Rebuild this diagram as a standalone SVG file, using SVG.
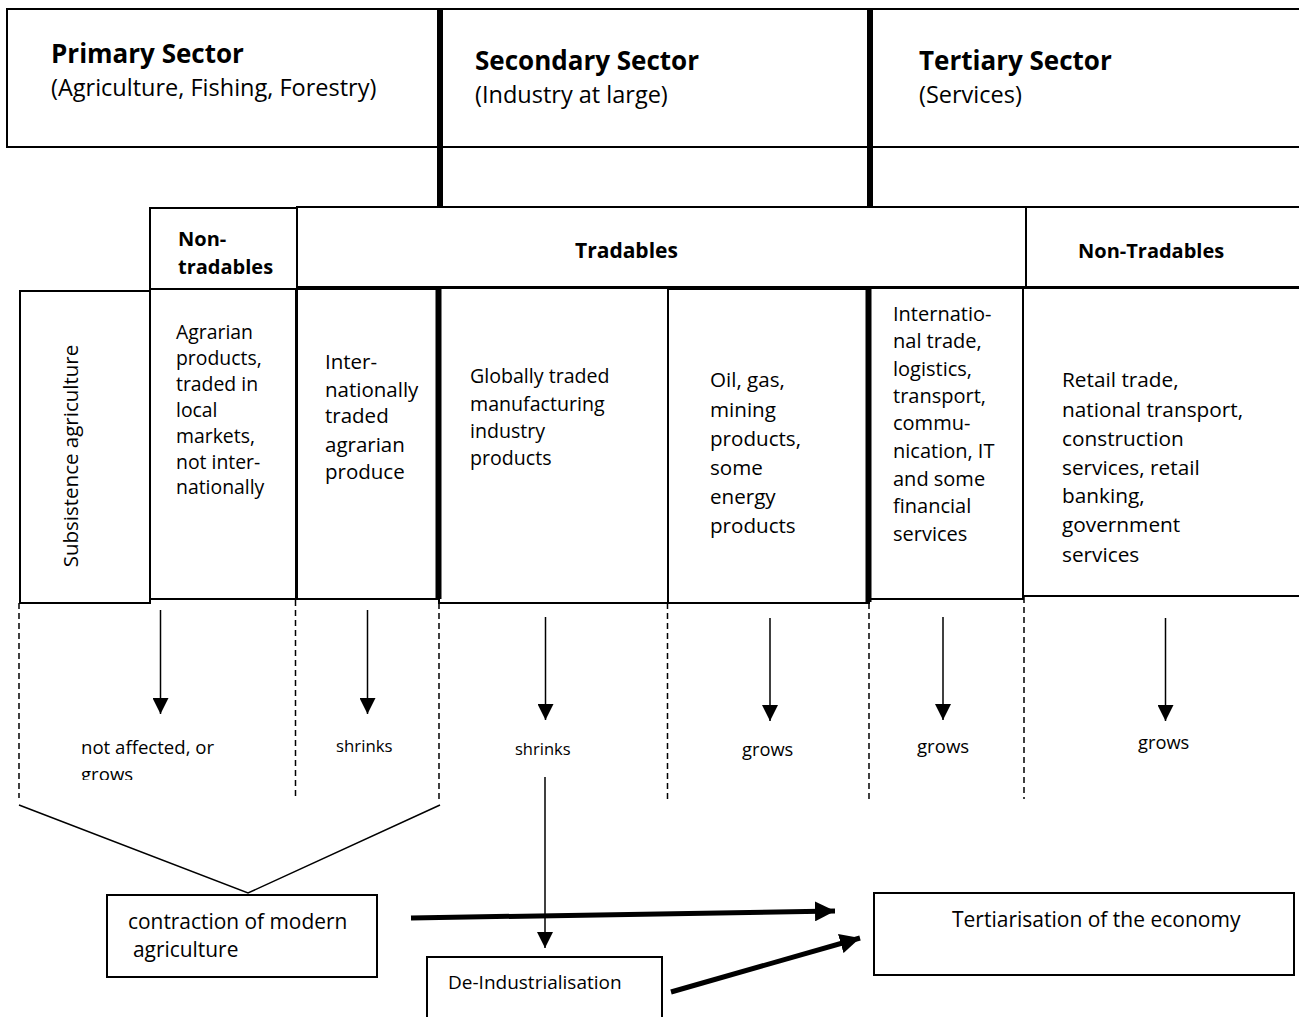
<svg xmlns="http://www.w3.org/2000/svg" width="1299" height="1017" viewBox="0 0 1299 1017">
<style>
text{font-family:"Open Sans","Liberation Sans",sans-serif;fill:#000}
.box{fill:#fff;stroke:#000;stroke-width:2}
.thick{stroke:#000;stroke-width:6;fill:none}
.h{font-weight:bold;font-size:26px}
.sub{font-size:23.5px}
.cat{font-weight:bold;font-size:20px}
.dash{stroke:#000;stroke-width:1.5;stroke-dasharray:6 4;fill:none}
.arr{stroke:#000;stroke-width:1.5;fill:none;marker-end:url(#ah)}
.big{stroke:#000;stroke-width:5;fill:none;marker-end:url(#ahb)}
.ln{stroke:#000;stroke-width:1.5;fill:none}
.lbl{font-size:17px}
</style>
<defs>
<marker id="ah" markerUnits="userSpaceOnUse" viewBox="0 0 16 16" refX="16" refY="8" markerWidth="16" markerHeight="16" orient="auto"><path d="M0,0 L16,8 L0,16 Z" fill="#000"/></marker>
<marker id="ahb" markerUnits="userSpaceOnUse" viewBox="0 0 20 20" refX="20" refY="10" markerWidth="20" markerHeight="20" orient="auto"><path d="M0,0 L20,10 L0,20 Z" fill="#000"/></marker>
<clipPath id="clipGrows"><rect x="0" y="600" width="300" height="180"/></clipPath>
</defs>
<rect width="1299" height="1017" fill="#fff"/>

<g id="header">
<rect class="box" x="7" y="9" width="1300" height="138"/>
<text class="h" x="51" y="63">Primary Sector</text>
<text class="sub" x="51" y="96">(Agriculture, Fishing, Forestry)</text>
<text class="h" x="475" y="70">Secondary Sector</text>
<text class="sub" x="475" y="103">(Industry at large)</text>
<text class="h" x="919" y="70">Tertiary Sector</text>
<text class="sub" x="919" y="103">(Services)</text>
</g>

<g id="cat-nontradables-1">
<rect class="box" x="150" y="208" width="147" height="81"/>
<text class="cat" x="178" y="246">Non-</text>
<text class="cat" x="178" y="274">tradables</text>
</g>
<g id="cat-tradables">
<rect class="box" x="297" y="207" width="729" height="80"/>
<text class="cat" x="575" y="258" style="font-size:21px">Tradables</text>
</g>
<g id="cat-nontradables-2">
<rect class="box" x="1026" y="207" width="280" height="80"/>
<text class="cat" x="1078" y="258">Non-Tradables</text>
</g>

<g id="col-subsistence">
<rect class="box" x="20" y="291" width="130" height="312"/>
<text x="78" y="456" text-anchor="middle" transform="rotate(-90 78 456)" style="font-size:20.5px">Subsistence agriculture</text>
</g>
<g id="col-agrarian" style="font-size:19.4px">
<rect class="box" x="150" y="289" width="146" height="310"/>
<text x="176" y="339">Agrarian</text>
<text x="176" y="365">products,</text>
<text x="176" y="391">traded in</text>
<text x="176" y="417">local</text>
<text x="176" y="443">markets,</text>
<text x="176" y="469">not inter-</text>
<text x="176" y="494">nationally</text>
</g>
<g id="col-intl-agrarian" style="font-size:20.5px">
<rect class="box" x="297" y="289" width="142" height="310"/>
<text x="325" y="369">Inter-</text>
<text x="325" y="397">nationally</text>
<text x="325" y="423">traded</text>
<text x="325" y="452">agrarian</text>
<text x="325" y="479">produce</text>
</g>
<g id="col-manufacturing" style="font-size:19.6px">
<rect class="box" x="439" y="288" width="229" height="315"/>
<text x="470" y="383">Globally traded</text>
<text x="470" y="411">manufacturing</text>
<text x="470" y="438">industry</text>
<text x="470" y="465">products</text>
</g>
<g id="col-oil" style="font-size:20.6px">
<rect class="box" x="668" y="289" width="201" height="314"/>
<text x="710" y="387">Oil, gas,</text>
<text x="710" y="417">mining</text>
<text x="710" y="446">products,</text>
<text x="710" y="475">some</text>
<text x="710" y="504">energy</text>
<text x="710" y="533">products</text>
</g>
<g id="col-intl-services" style="font-size:20px">
<rect class="box" x="869" y="288" width="154" height="311"/>
<text x="893" y="321">Internatio-</text>
<text x="893" y="348">nal trade,</text>
<text x="893" y="376">logistics,</text>
<text x="893" y="403">transport,</text>
<text x="893" y="430">commu-</text>
<text x="893" y="458">nication, IT</text>
<text x="893" y="486">and some</text>
<text x="893" y="513">financial</text>
<text x="893" y="541">services</text>
</g>
<g id="col-retail" style="font-size:20.8px">
<rect class="box" x="1023" y="288" width="283" height="308"/>
<text x="1062" y="387">Retail trade,</text>
<text x="1062" y="417">national transport,</text>
<text x="1062" y="446">construction</text>
<text x="1062" y="475">services, retail</text>
<text x="1062" y="503">banking,</text>
<text x="1062" y="532">government</text>
<text x="1062" y="562">services</text>
</g>

<g id="sector-dividers">
<line class="thick" x1="440" y1="9" x2="440" y2="207"/>
<line class="thick" x1="870" y1="9" x2="870" y2="207"/>
<line class="thick" x1="438.5" y1="289" x2="438.5" y2="599"/>
<line class="thick" x1="868.5" y1="289" x2="868.5" y2="602"/>
</g>

<g id="effects">
<text class="lbl" x="81" y="754" style="font-size:18.6px">not affected, or</text>
<text class="lbl" x="81" y="781" clip-path="url(#clipGrows)" style="font-size:18.6px">grows</text>
<text class="lbl" x="336" y="752" style="font-size:16.8px">shrinks</text>
<text class="lbl" x="515" y="755" style="font-size:16.5px">shrinks</text>
<text class="lbl" x="742" y="756" style="font-size:18.3px">grows</text>
<text class="lbl" x="917" y="753" style="font-size:18.6px">grows</text>
<text class="lbl" x="1138" y="749" style="font-size:18.3px">grows</text>
</g>

<g id="node-contraction">
<rect class="box" x="107" y="895" width="270" height="82"/>
<text x="128" y="929" style="font-size:20.9px">contraction of modern</text>
<text x="133" y="957" style="font-size:20.9px">agriculture</text>
</g>
<g id="node-deindustrialisation">
<rect class="box" x="427" y="957" width="235" height="80"/>
<text x="448" y="989" style="font-size:19px">De-Industrialisation</text>
</g>
<g id="node-tertiarisation">
<rect class="box" x="874" y="893" width="420" height="82"/>
<text x="952" y="927" style="font-size:21px">Tertiarisation of the economy</text>
</g>

<g id="connectors">
<line class="dash" x1="19" y1="603" x2="19" y2="798"/>
<line class="dash" x1="295.5" y1="600" x2="295.5" y2="800"/>
<line class="dash" x1="439" y1="603" x2="439" y2="803"/>
<line class="dash" x1="667.5" y1="603" x2="667.5" y2="801"/>
<line class="dash" x1="869" y1="603" x2="869" y2="800"/>
<line class="dash" x1="1024" y1="597" x2="1024" y2="799"/>
<line class="arr" x1="160.5" y1="610" x2="160.5" y2="714"/>
<line class="arr" x1="367.5" y1="610" x2="367.5" y2="714"/>
<line class="arr" x1="545.5" y1="617" x2="545.5" y2="720"/>
<line class="arr" x1="770" y1="618" x2="770" y2="721"/>
<line class="arr" x1="943" y1="617" x2="943" y2="720"/>
<line class="arr" x1="1165.5" y1="618" x2="1165.5" y2="721"/>
<polyline class="ln" points="19,805 248,893 440,805"/>
<line class="arr" x1="545" y1="777" x2="545" y2="948"/>
<line class="big" x1="411" y1="918" x2="835" y2="911"/>
<line class="big" x1="671" y1="992" x2="860" y2="938"/>
</g>
</svg>
